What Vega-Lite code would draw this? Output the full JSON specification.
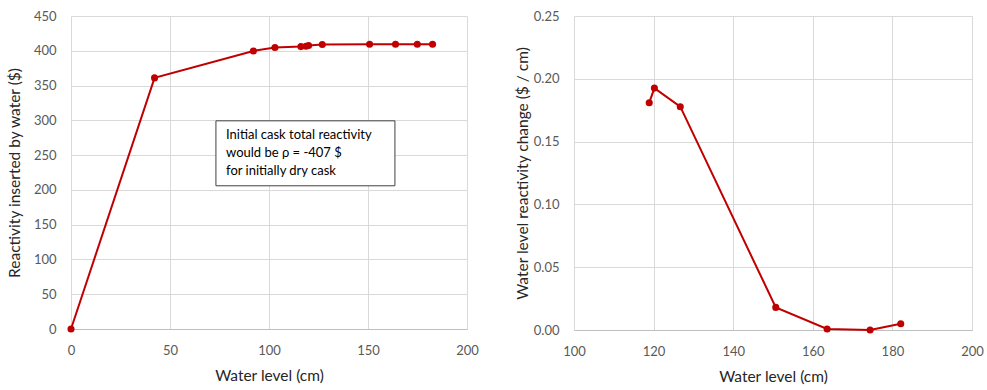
{
  "$schema": "https://vega.github.io/schema/vega-lite/v6.json",
  "padding": {"left": 7, "top": 10, "right": 0, "bottom": 0},
  "background": "white",
  "datasets": {
    "left": [
      {"level": 0, "reactivity": 0},
      {"level": 42.2, "reactivity": 361},
      {"level": 92.1, "reactivity": 399.8},
      {"level": 103, "reactivity": 404.7},
      {"level": 116.1, "reactivity": 406},
      {"level": 118.7, "reactivity": 406.5},
      {"level": 120, "reactivity": 407.5},
      {"level": 126.9, "reactivity": 409},
      {"level": 150.8, "reactivity": 409.5},
      {"level": 163.9, "reactivity": 409.5},
      {"level": 174.9, "reactivity": 409.5},
      {"level": 182.6, "reactivity": 409.5}
    ],
    "right": [
      {"level": 118.9, "change": 0.181},
      {"level": 120.2, "change": 0.1926},
      {"level": 126.7, "change": 0.1778},
      {"level": 150.7, "change": 0.018},
      {"level": 163.6, "change": 0.0008},
      {"level": 174.4, "change": 0.0},
      {"level": 182.1, "change": 0.005}
    ],
    "box": [{"level": 73.2, "level2": 163.6, "reactivity": 205.9, "reactivity2": 299.3}],
    "note": [
      {"level": 78.3, "reactivity": 278.7, "text": "Initial cask total reactivity"},
      {"level": 78.3, "reactivity": 252.4, "text": "would be ρ = -407 $"},
      {"level": 78.3, "reactivity": 227.4, "text": "for initially dry cask"}
    ]
  },
  "spacing": 36,
  "config": {
    "font": "Lato",
    "view": {"stroke": null},
    "axis": {
      "gridColor": "#d9d9d9",
      "gridWidth": 1,
      "ticks": false,
      "labelColor": "#595959",
      "labelFontSize": 13,
      "labelFont": "Lato",
      "labelOverlap": false,
      "labelFlush": false,
      "titleFont": "Lato",
      "titleFontSize": 15.5,
      "titleFontWeight": "normal",
      "titleColor": "#262626",
      "domainColor": "#bfbfbf"
    },
    "axisX": {"labelPadding": 15, "titlePadding": 11},
    "axisY": {"domain": false, "labelPadding": 15}
  },
  "hconcat": [
    {
      "width": 396,
      "height": 313,
      "encoding": {
        "x": {"field": "level", "type": "quantitative", "scale": {"domain": [0, 200], "nice": false},
              "axis": {"values": [0, 50, 100, 150, 200], "title": "Water level (cm)"}},
        "y": {"field": "reactivity", "type": "quantitative", "scale": {"domain": [0, 450], "nice": false},
              "axis": {"values": [0, 50, 100, 150, 200, 250, 300, 350, 400, 450], "title": "Reactivity inserted by water ($)", "titlePadding": 11}}
      },
      "layer": [
        {
          "data": {"name": "box"},
          "mark": {"type": "rect", "fill": "white", "stroke": "#404040", "strokeWidth": 1},
          "encoding": {
            "x2": {"field": "level2"},
            "y2": {"field": "reactivity2"}
          }
        },
        {
          "data": {"name": "note"},
          "mark": {"type": "text", "align": "left", "baseline": "middle", "font": "Lato", "fontSize": 13, "color": "#000000"},
          "encoding": {
            "text": {"field": "text"}
          }
        },
        {
          "data": {"name": "left"},
          "mark": {"type": "line", "color": "#c00000", "strokeWidth": 2, "point": {"filled": true, "size": 50, "color": "#c00000"}}
        }
      ]
    },
    {
      "width": 398,
      "height": 314,
      "data": {"name": "right"},
      "mark": {"type": "line", "color": "#c00000", "strokeWidth": 2, "point": {"filled": true, "size": 50, "color": "#c00000"}},
      "encoding": {
        "x": {"field": "level", "type": "quantitative", "scale": {"domain": [100, 200], "nice": false},
              "axis": {"values": [100, 120, 140, 160, 180, 200], "title": "Water level (cm)"}},
        "y": {"field": "change", "type": "quantitative", "scale": {"domain": [0, 0.25], "nice": false},
              "axis": {"values": [0, 0.05, 0.1, 0.15, 0.2, 0.25], "format": ".2f", "title": "Water level reactivity change ($ / cm)", "titlePadding": 3}}
      }
    }
  ]
}
